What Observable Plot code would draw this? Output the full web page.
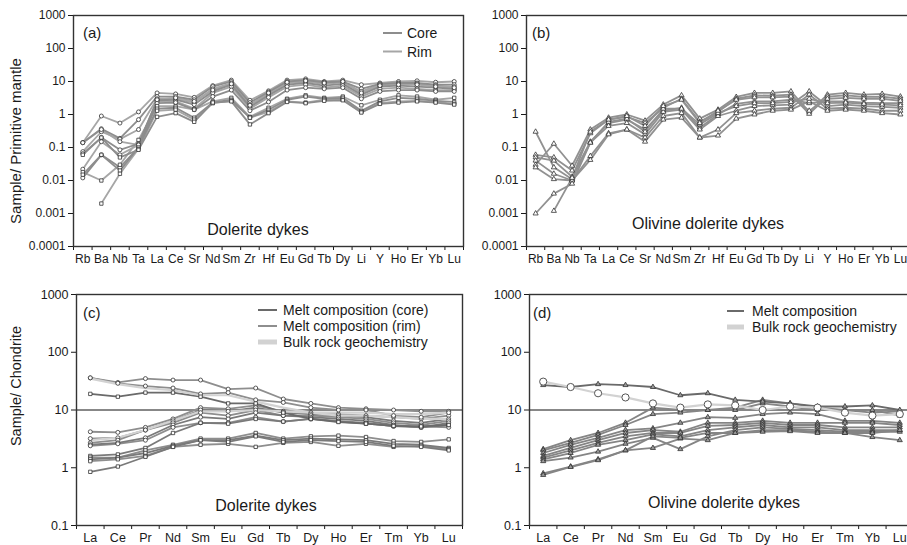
<!DOCTYPE html>
<html><head><meta charset="utf-8">
<script src="https://cdn.jsdelivr.net/npm/d3@7"></script>
<script src="https://cdn.jsdelivr.net/npm/@observablehq/plot@0.6"></script>
<style>
html,body{margin:0;padding:0;overflow:hidden;background:#fff;}
#wrap{position:relative;width:907px;height:545px;overflow:hidden;font-family:"Liberation Sans",Arial,sans-serif;color:#222;}
.p{position:absolute;}
#ov{position:absolute;left:0;top:0;pointer-events:none;}
</style></head><body><div id="wrap"></div>
<script>
// ---------- categories ----------
const elemsPM = ["Rb","Ba","Nb","Ta","La","Ce","Sr","Nd","Sm","Zr","Hf","Eu","Gd","Tb","Dy","Li","Y","Ho","Er","Yb","Lu"];
const elemsREE = ["La","Ce","Pr","Nd","Sm","Eu","Gd","Tb","Dy","Ho","Er","Tm","Yb","Lu"];
const ticksPM = [0.0001,0.001,0.01,0.1,1,10,100,1000];
const ticksCH = [0.1,1,10,100,1000];

// ---------- (a) Dolerite dykes, primitive-mantle normalised ----------
const a1  = [0.14,0.9,0.55,1.2,4.5,4.2,3.3,7.5,11,2.7,5.2,11,12,10,11,8,9,10,10.5,9.5,10];
const a2  = [0.14,0.37,0.19,0.7,3.5,3.5,2.8,7,10,2.3,4.8,10,11,9.5,10,6,8.5,9,9,8,8];
const a3  = [0.075,0.3,0.18,0.35,3,3,2.3,6,9,2,4.2,9,10,8.5,9.5,5,8,8.5,8.5,7.5,7];
const a4  = [0.065,0.2,0.085,0.13,2.7,2.8,2,5,8,1.7,3.8,8,9,7.5,8.5,4,7,7.5,7,6.5,6];
const a5  = [0.022,0.15,0.06,0.12,2.5,2.5,1.5,4.5,7,1.5,3.3,7,8,6.5,7.5,3.5,6,6.5,6,5.5,5.5];
const a6  = [0.012,0.06,0.025,0.1,2.2,2.3,1.4,3.5,5.5,1.3,2.4,5.5,6.5,6,6.5,3,5,5.5,5.5,5,5];
const a7  = [0.14,0.35,0.15,0.12,2.8,3.2,2.5,5.5,8.5,1.9,4.5,9.5,10.5,9,10,4.5,7.5,8,8,7,6.5];
const a8  = [0.018,0.01,0.03,0.17,1.8,1.8,1.4,2.5,3.2,0.85,1.6,3,3.8,3.2,3.5,1.9,2.8,3.8,3.5,2.8,3.2];
const a9  = [0.015,0.06,0.02,0.1,1.5,1.6,0.8,2.3,2.8,0.8,1.4,2.8,3.5,3,3.2,1.3,2.5,3.2,3,2.6,2.4];
const a10 = [null,0.002,0.016,0.09,1.3,1.4,0.7,2.2,2.6,0.8,1.2,2.5,2.3,2.8,2.8,1.2,2.2,2.5,2.6,2.4,2.1];
const a11 = [0.06,0.2,0.05,0.085,0.85,1.1,0.6,2.3,2.5,0.5,1.1,2.4,2.2,2.6,2.7,1.15,2.1,2.3,2.5,2.3,2];

// ---------- (b) Olivine dolerite dykes, primitive-mantle normalised ----------
const b1 = [0.03,0.13,0.028,0.35,0.8,1.0,0.65,2.0,3.8,0.75,1.4,3.4,4.5,4.5,5,1.2,4,4.5,4,4.2,3.5];
const b2 = [0.06,0.05,0.02,0.27,0.7,0.85,0.55,1.6,3.0,0.6,1.2,3.0,3.8,3.7,4,1.05,3.5,3.8,3.4,3.5,3];
const b3 = [0.05,0.04,0.013,0.15,0.55,0.7,0.35,1.3,1.6,0.4,1.0,2.1,2.5,2.5,2.8,2.2,2.5,2.5,2.3,2.2,2.2];
const b4 = [0.3,0.025,0.011,0.14,0.45,0.55,0.25,1.2,1.4,0.35,0.9,1.3,1.8,1.9,2,5,1.8,2,1.8,1.7,1.6];
const b5 = [0.04,0.016,0.01,0.055,0.27,0.35,0.2,0.9,1.1,0.2,0.35,1.1,1.3,1.5,1.6,4,1.5,1.6,1.5,1.3,1.3];
const b6 = [0.025,0.011,0.01,0.042,0.25,0.35,0.15,0.7,0.8,0.2,0.23,0.75,1.0,1.3,1.4,2.5,1.3,1.4,1.3,1.1,1.0];
const b7 = [0.001,0.004,0.008,0.14,0.6,0.75,0.3,1.5,1.5,0.5,1.1,1.8,2.2,2.2,2.4,3,2.2,2.3,2.1,2,1.9];
const b8 = [null,0.0012,0.012,0.3,0.7,0.9,0.45,1.8,2.8,0.55,1.3,2.8,3.3,3.3,3.5,1.3,3,3.2,3,3,2.6];

// ---------- (c) Dolerite dykes, chondrite normalised ----------
const c1  = [19,17,20,20,17,13,13,9,7,6.2,5.8,5.3,5.2,5.5];
const c2  = [36,30,35,33,33,23,24,15.5,13,11,10.5,10,9.5,9.5];
const c3  = [36,29,26,24,19,20,15,13.5,11,10,10,8,7.5,9];
const c4  = [35,28,24,22,18,18,14,11,9,8,8,7.5,7,7];
const c5  = [4.2,4.1,5,7,11,10.5,12,9.5,9,8.5,8,7.5,7,8];
const c6  = [3.2,3.3,4.5,6.5,10,9.5,11,9,8.5,8,7.5,6.5,6,7];
const c7  = [2.7,3,4.5,6,9,8,10,8,8,7.5,7,6,5.5,6.5];
const c8  = [2.5,2.7,3.3,5.5,7.5,7,9,8,7.5,7,6.5,5.5,5,6];
const c9  = [2.4,2.6,3,5,6,6,7.5,6.3,7,6.5,6,5.2,5.2,5];
const c10 = [1.6,1.7,2.2,4,6,5.8,7,6.3,7,6.3,5.8,5.3,5,5.5];
const c11 = [1.5,1.5,2,2.5,3.2,3.2,4,3.2,3.5,3.6,3.4,2.9,2.8,3.1];
const c12 = [1.4,1.5,1.8,2.4,3,3,3.6,3,3.2,3.1,3,2.6,2.5,2.2];
const c13 = [1.3,1.4,1.6,2.3,2.5,2.6,2.3,2.7,2.8,2.4,2.6,2.3,2.4,2.1];
const c14 = [0.85,1.05,1.55,2.3,3,2.8,3.5,2.8,3,2.9,2.8,2.4,2.3,2];
const c15 = [3,3.3,4.5,6.5,9.5,9.5,10,9.5,9,9,9,8.5,8.5,9];

// ---------- (d) Olivine dolerite dykes, chondrite normalised ----------
const d1  = [27,25,28,27,25,18,19.5,15,14,13,11.5,11.5,12,10];
const d2  = [31,25,19.5,16.5,13,11,12.5,12,10,11.5,11,9,8,8.5];
const d3  = [2.1,3.0,4,6,11,10,10,11,15,13,11,10,9,9.5];
const d4  = [2.0,2.7,3.7,5.5,8.5,9,10,10,13,11.5,10,10,10,8];
const d5  = [1.8,2.5,3.3,4.5,4.8,6,7.5,7.3,8.5,9,8.5,6.5,6.5,6];
const d6  = [1.6,2.2,3,4,4.5,4.2,6,6,6.5,6,6,6,6,5.5];
const d7  = [1.5,2,2.7,3.5,4,4,5.3,5.5,6,5.5,5.5,5,5,5];
const d8  = [1.4,1.8,2.5,3,3.8,3.5,4.5,5,5.5,5,5,4.5,4.5,4.5];
const d9  = [1.3,1.5,1.9,2.6,3.3,2.1,3.5,4.5,5,4.7,4.5,4.2,4.2,4.2];
const d10 = [0.8,1.05,1.4,2.0,2.2,3.2,3,4,4.5,4.5,4.2,4,3.4,3];
const d11 = [0.75,1.03,1.35,2.0,3.5,3.3,4,4,4.2,4.3,4,4,4,4.5];

// ---------- series tables (values, group, marker) ----------
const seriesA = [[a1,"rim","circle"],[a2,"core","circle"],[a3,"rim","circle"],[a4,"core","circle"],[a5,"rim","circle"],[a6,"core","circle"],[a7,"rim","circle"],[a8,"rim","square"],[a9,"core","square"],[a10,"rim","square"],[a11,"core","square"]];
const seriesB = [[b1,"ol","triangle"],[b2,"ol","triangle"],[b3,"ol","triangle"],[b4,"ol","triangle"],[b5,"ol","triangle"],[b6,"ol","triangle"],[b7,"ol","triangle"],[b8,"ol","triangle"]];
const seriesC = [[c5,"rim","circle"],[c6,"core","circle"],[c7,"rim","circle"],[c8,"core","circle"],[c9,"rim","circle"],[c10,"core","square"],[c11,"rim","square"],[c12,"core","square"],[c13,"rim","square"],[c14,"core","square"],[c2,"rim","circle"],[c3,"rim","circle"],[c1,"coreTop","square"],[c4,"bulk",null],[c15,"bulk",null]];
const seriesD = [[d3,"melt","triangle"],[d4,"melt","triangle"],[d5,"melt","triangle"],[d6,"melt","triangle"],[d7,"melt","triangle"],[d8,"melt","triangle"],[d9,"melt","triangle"],[d10,"melt","triangle"],[d11,"melt","triangle"],[d1,"meltTop","triangle"],[d2,"bulk","circleBig"]];

const styles = {
  rim:{stroke:"#a6a6a6",w:1.8}, core:{stroke:"#8d8d8d",w:1.8}, ol:{stroke:"#919191",w:1.8},
  coreTop:{stroke:"#6a6a6a",w:1.8}, melt:{stroke:"#858585",w:1.8}, meltTop:{stroke:"#6a6a6a",w:1.8},
  bulk:{stroke:"#d2d2d2",w:2.2}
};
const cStyles = {rim:{stroke:"#8e8e8e",w:1.8}, core:{stroke:"#7a7a7a",w:1.8}};

const seq = n => Array.from({length:n},(_,i)=>i);

function panel(o){
  const n = o.cats.length;
  const rows = [];
  o.series.forEach(([vals,grp,sym],k)=>vals.forEach((v,i)=>rows.push({k,i,v:v==null?NaN:v,grp,sym})));
  const marks = [];
  if (o.ref) marks.push(Plot.ruleY([10],{stroke:"#111",strokeWidth:1}));
  const st = o.styles;
  for (const g of o.order){
    marks.push(Plot.line(rows.filter(r=>r.grp===g),{x:"i",y:"v",z:"k",stroke:st[g].stroke,strokeWidth:st[g].w,strokeLinejoin:"round"}));
  }
  const syms = [["circle",2.0,"white","#333",0.8],["square",1.9,"white","#333",0.8],["triangle",o.triR||1.9,o.triFill||"white","#333",0.8],["circleBig",3.6,"white","#555",1]];
  for (const [s,r,fill,stroke,sw] of syms){
    const d = rows.filter(row=>row.sym===s && isFinite(row.v));
    if (d.length) marks.push(Plot.dot(d,{x:"i",y:"v",symbol:s==="circleBig"?"circle":s,r,fill,stroke,strokeWidth:sw}));
  }
  marks.push(Plot.axisY({ticks:o.ticks,tickFormat:d=>String(d),tickSize:5,tickPadding:3,fontSize:o.yfs,label:null}));
  marks.push(Plot.axisX({ticks:seq(n+1).map(j=>j-0.5),tickFormat:()=>"",tickSize:4,label:null}));
  marks.push(Plot.axisX({ticks:seq(n),tickFormat:i=>o.cats[i],tickSize:0,tickPadding:o.xpad,fontSize:o.xfs,label:null}));
  marks.push(Plot.frame({stroke:"#333",strokeWidth:1.4}));
  const svg = Plot.plot({
    width:o.width,height:o.height,
    marginLeft:o.ml,marginRight:o.mr,marginTop:o.mt,marginBottom:o.mb,
    x:{type:"linear",domain:[-0.5,n-0.5],label:null},
    y:{type:"log",domain:o.domain,label:null},
    style:{fontFamily:"Liberation Sans, Arial, sans-serif",background:"transparent",color:"#1a1a1a",overflow:"visible"},
    marks
  });
  svg.classList.add("p");
  svg.style.left=o.left+"px"; svg.style.top=o.top+"px";
  document.getElementById("wrap").appendChild(svg);
}

panel({cats:elemsPM,series:seriesA,order:["rim","core"],styles,ticks:ticksPM,domain:[1e-4,1e3],
  left:0,top:0,width:470,height:272,ml:73,mr:7,mt:15,mb:26,yfs:12,xfs:12,xpad:8});
panel({cats:elemsPM,series:seriesB,order:["ol"],styles,ticks:ticksPM,domain:[1e-4,1e3],
  left:455,top:0,width:470,height:272,ml:71,mr:16,mt:15,mb:26,yfs:12,xfs:12,xpad:8});
panel({cats:elemsREE,series:seriesC,order:["rim","core","coreTop","bulk"],styles:{...styles,...cStyles},ticks:ticksCH,domain:[0.1,1000],ref:true,
  left:0,top:272,width:470,height:273,ml:76,mr:8,mt:22,mb:20,yfs:12.5,xfs:12.5,xpad:8});
panel({cats:elemsREE,series:seriesD,order:["melt","meltTop","bulk"],styles,ticks:ticksCH,domain:[0.1,1000],ref:true,triFill:"#9a9a9a",triR:1.9,
  left:455,top:272,width:470,height:273,ml:74,mr:12,mt:22,mb:20,yfs:12.5,xfs:12.5,xpad:8});

// ---------- text overlay (titles, labels, legends) ----------
const NS = "http://www.w3.org/2000/svg";
const ov = document.createElementNS(NS,"svg");
ov.setAttribute("id","ov"); ov.setAttribute("width",907); ov.setAttribute("height",545);
ov.style.fontFamily="Liberation Sans, Arial, sans-serif";
document.getElementById("wrap").appendChild(ov);
function txt(x,y,s,size,anchor="start",rot=0){
  const t = document.createElementNS(NS,"text");
  t.setAttribute("font-size",size); t.setAttribute("text-anchor",anchor); t.setAttribute("fill","#1a1a1a");
  t.textContent = s;
  if (rot) t.setAttribute("transform",`translate(${x},${y}) rotate(${rot})`); else { t.setAttribute("x",x); t.setAttribute("y",y); }
  ov.appendChild(t);
}
function sw(x1,x2,y,color,w){
  const l = document.createElementNS(NS,"line");
  l.setAttribute("x1",x1); l.setAttribute("x2",x2); l.setAttribute("y1",y); l.setAttribute("y2",y);
  l.setAttribute("stroke",color); l.setAttribute("stroke-width",w);
  ov.appendChild(l);
}

txt(83,38,"(a)",15); txt(532,38,"(b)",15); txt(83,318,"(c)",15); txt(533,318,"(d)",15);
txt(258,235,"Dolerite dykes",16,"middle");
txt(708,229,"Olivine dolerite dykes",16,"middle");
txt(266,511,"Dolerite dykes",16,"middle");
txt(724,508,"Olivine dolerite dykes",16,"middle");
txt(20.5,141,"Sample/ Primitive mantle",15,"middle",-90);
txt(20.5,386,"Sample/ Chondrite",14.5,"middle",-90);

sw(383,402,33,"#8d8d8d",2); txt(407,38,"Core",14);
sw(383,402,51.5,"#a6a6a6",2); txt(407,57,"Rim",14);

sw(258,277,310,"#6a6a6a",2); txt(283,315,"Melt composition (core)",14);
sw(258,277,326,"#8e8e8e",2); txt(283,331,"Melt composition (rim)",14);
sw(258,277,342,"#d2d2d2",5); txt(283,347,"Bulk rock geochemistry",14);

sw(727,744,311,"#6a6a6a",2); txt(752,316,"Melt composition",14);
sw(727,744,327,"#d2d2d2",5); txt(752,332,"Bulk rock geochemistry",14);
</script></body></html>
